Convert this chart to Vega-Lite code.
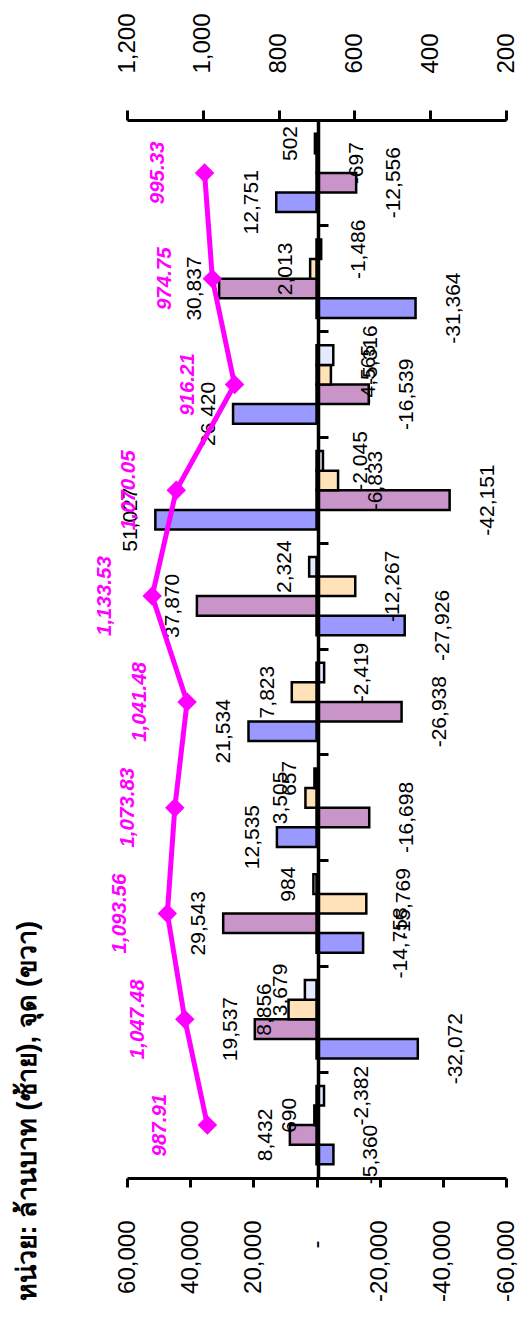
{
  "$schema": "https://vega.github.io/schema/vega-lite/v6.json",
  "width": 379,
  "height": 1058,
  "autosize": {"type": "none"},
  "padding": {"left": 127, "top": 120, "right": 19, "bottom": 148},
  "background": "white",
  "config": {
    "view": {"stroke": null},
    "locale": {"number": {"decimal": ".", "thousands": ",", "grouping": [3], "currency": ["", ""], "minus": "-"}},
    "font": "Liberation Sans"
  },
  "title": {
    "text": "หน่วย: ล้านบาท (ซ้าย), จุด (ขวา)",
    "orient": "left",
    "anchor": "start",
    "fontSize": 27,
    "fontWeight": "bold",
    "font": "Liberation Sans",
    "color": "black",
    "offset": 53
  },
  "datasets": {
    "bars": [
      {"p": 1, "s": "Foreign", "v": -5360}, {"p": 1, "s": "Local", "v": 8432}, {"p": 1, "s": "Institution", "v": 690}, {"p": 1, "s": "Proprietary", "v": -2382},
      {"p": 2, "s": "Foreign", "v": -32072}, {"p": 2, "s": "Local", "v": 19537}, {"p": 2, "s": "Institution", "v": 8856}, {"p": 2, "s": "Proprietary", "v": 3679},
      {"p": 3, "s": "Foreign", "v": -14758}, {"p": 3, "s": "Local", "v": 29543}, {"p": 3, "s": "Institution", "v": -15769}, {"p": 3, "s": "Proprietary", "v": 984},
      {"p": 4, "s": "Foreign", "v": 12535}, {"p": 4, "s": "Local", "v": -16698}, {"p": 4, "s": "Institution", "v": 3505}, {"p": 4, "s": "Proprietary", "v": 657},
      {"p": 5, "s": "Foreign", "v": 21534}, {"p": 5, "s": "Local", "v": -26938}, {"p": 5, "s": "Institution", "v": 7823}, {"p": 5, "s": "Proprietary", "v": -2419},
      {"p": 6, "s": "Foreign", "v": -27926}, {"p": 6, "s": "Local", "v": 37870}, {"p": 6, "s": "Institution", "v": -12267}, {"p": 6, "s": "Proprietary", "v": 2324},
      {"p": 7, "s": "Foreign", "v": 51027}, {"p": 7, "s": "Local", "v": -42151}, {"p": 7, "s": "Institution", "v": -6833}, {"p": 7, "s": "Proprietary", "v": -2045},
      {"p": 8, "s": "Foreign", "v": 26420}, {"p": 8, "s": "Local", "v": -16539}, {"p": 8, "s": "Institution", "v": -4565}, {"p": 8, "s": "Proprietary", "v": -5316},
      {"p": 9, "s": "Foreign", "v": -31364}, {"p": 9, "s": "Local", "v": 30837}, {"p": 9, "s": "Institution", "v": 2013}, {"p": 9, "s": "Proprietary", "v": -1486},
      {"p": 10, "s": "Foreign", "v": 12751}, {"p": 10, "s": "Local", "v": -12556}, {"p": 10, "s": "Institution", "v": -697}, {"p": 10, "s": "Proprietary", "v": 502}
    ],
    "index": [
      {"p": 1, "i": 987.91}, {"p": 2, "i": 1047.48}, {"p": 3, "i": 1093.56}, {"p": 4, "i": 1073.83}, {"p": 5, "i": 1041.48},
      {"p": 6, "i": 1133.53}, {"p": 7, "i": 1070.05}, {"p": 8, "i": 916.21}, {"p": 9, "i": 974.75}, {"p": 10, "i": 995.33}
    ]
  },
  "encoding": {
    "y": {
      "field": "p",
      "type": "ordinal",
      "sort": "descending",
      "scale": {"paddingInner": 0, "paddingOuter": 0},
      "axis": {
        "orient": "right",
        "offset": -188,
        "labels": false,
        "title": null,
        "grid": false,
        "bandPosition": 0,
        "ticks": true,
        "tickSize": 10,
        "tickWidth": 3,
        "tickColor": "black",
        "domainColor": "black",
        "domainWidth": 3.5,
        "zindex": 1
      }
    }
  },
  "layer": [
    {
      "data": {"name": "bars"},
      "encoding": {
        "x": {
          "field": "v",
          "type": "quantitative",
          "scale": {"domain": [-60000, 60000], "reverse": true, "nice": false},
          "axis": {
            "orient": "bottom",
            "values": [-60000, -40000, -20000, 0, 20000, 40000, 60000],
            "format": ",.0f",
            "labelExpr": "datum.value === 0 ? '-' : datum.label",
            "labelAngle": 270,
            "labelAlign": "right",
            "labelBaseline": "middle",
            "labelPadding": {"condition": {"test": "datum.value === 0", "value": 53}, "value": 33},
            "labelFontSize": 24,
            "labelFont": "Liberation Sans",
            "labelColor": "black",
            "labelFlush": false,
            "labelOverlap": false,
            "tickSize": 9,
            "tickWidth": 3,
            "tickColor": "black",
            "domainColor": "black",
            "domainWidth": 3,
            "grid": false,
            "title": null
          }
        },
        "yOffset": {
          "field": "s",
          "type": "nominal",
          "scale": {"domain": ["Proprietary", "Institution", "Local", "Foreign"], "paddingInner": 0, "paddingOuter": 0.7}
        }
      },
      "layer": [
        {
          "mark": {"type": "bar", "stroke": "black", "strokeWidth": 2.5},
          "encoding": {
            "color": {
              "field": "s",
              "type": "nominal",
              "scale": {"domain": ["Foreign", "Local", "Institution", "Proprietary"], "range": ["#9999FF", "#C995C9", "#FFE2B8", "#E4EAFF"]},
              "legend": null
            }
          }
        },
        {
          "transform": [{"filter": "datum.v >= 0"}],
          "mark": {"type": "text", "angle": 270, "align": "center", "baseline": "alphabetic", "dy": -18, "fontSize": 21, "font": "Liberation Sans", "color": "black"},
          "encoding": {"text": {"field": "v", "type": "quantitative", "format": ",.0f"}}
        },
        {
          "transform": [{"filter": "datum.v < 0"}],
          "mark": {"type": "text", "angle": 270, "align": "center", "baseline": "top", "dy": 27, "fontSize": 21, "font": "Liberation Sans", "color": "black"},
          "encoding": {"text": {"field": "v", "type": "quantitative", "format": ",.0f"}}
        }
      ]
    },
    {
      "data": {"name": "index"},
      "encoding": {
        "x": {
          "field": "i",
          "type": "quantitative",
          "scale": {"domain": [200, 1200], "reverse": true, "nice": false, "zero": false},
          "axis": {
            "orient": "top",
            "values": [200, 400, 600, 800, 1000, 1200],
            "format": ",.0f",
            "labelAngle": 270,
            "labelAlign": "left",
            "labelBaseline": "middle",
            "labelPadding": 37,
            "labelFontSize": 24,
            "labelFont": "Liberation Sans",
            "labelColor": "black",
            "labelFlush": false,
            "labelOverlap": false,
            "tickSize": 10,
            "tickWidth": 3,
            "tickColor": "black",
            "domainColor": "black",
            "domainWidth": 3,
            "grid": false,
            "title": null
          }
        }
      },
      "layer": [
        {"mark": {"type": "line", "color": "#FF00FF", "strokeWidth": 5}},
        {"mark": {"type": "point", "shape": "diamond", "filled": true, "size": 380, "color": "#FF00FF", "opacity": 1}},
        {
          "mark": {"type": "text", "angle": 270, "align": "center", "baseline": "alphabetic", "dy": -41, "fontSize": 20.5, "fontWeight": "bold", "fontStyle": "italic", "font": "Liberation Sans", "color": "#FF00FF"},
          "encoding": {"text": {"field": "i", "type": "quantitative", "format": ",.2f"}}
        }
      ]
    }
  ],
  "resolve": {"scale": {"x": "independent"}, "axis": {"x": "independent"}}
}
